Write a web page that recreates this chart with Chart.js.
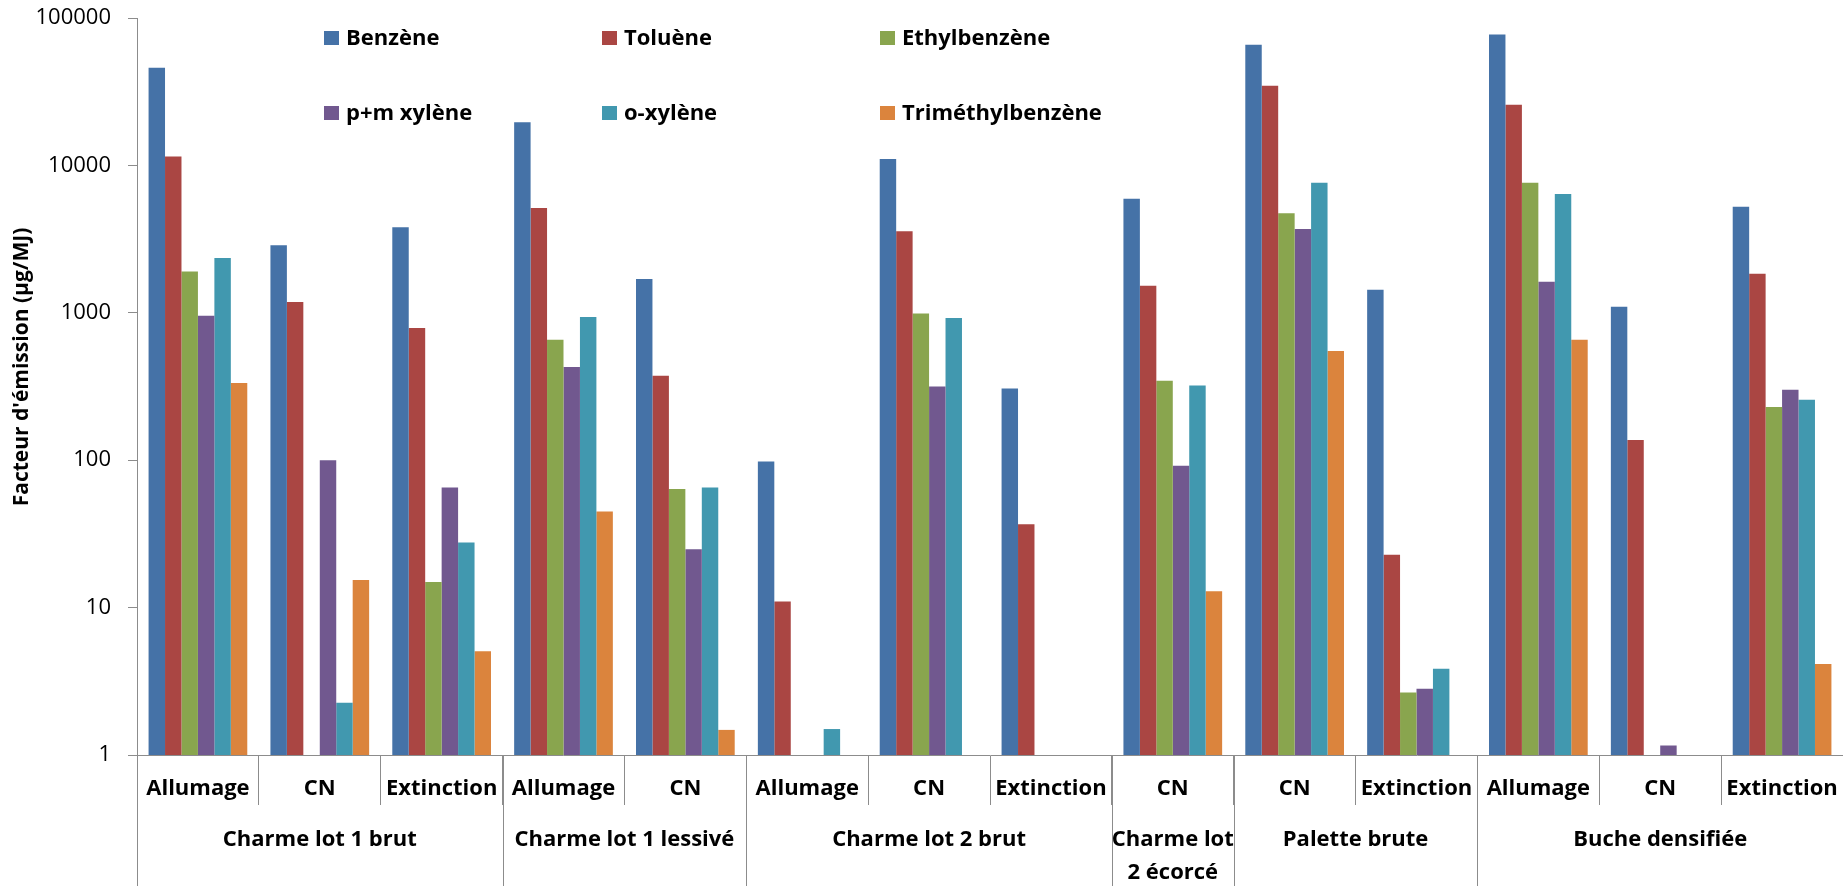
<!DOCTYPE html>
<html>
<head>
<meta charset="utf-8">
<title>Facteur d'émission</title>
<script src="https://cdn.jsdelivr.net/npm/chart.js@4.4.1/dist/chart.umd.min.js"></script>
<style>
  html, body { margin: 0; padding: 0; background: #fff; }
  #wrap { width: 1843px; height: 886px; }
</style>
</head>
<body>
<div id="wrap"><canvas id="chart" width="1843" height="886"></canvas></div>
<script>
// phases (sous-catégories) et groupes de combustibles
const phases = [
  "Allumage", "CN", "Extinction",
  "Allumage", "CN",
  "Allumage", "CN", "Extinction",
  "CN",
  "CN", "Extinction",
  "Allumage", "CN", "Extinction",
];
const groupLabels = [
  ["Charme lot 1 brut"],
  ["Charme lot 1 lessivé"],
  ["Charme lot 2 brut"],
  ["Charme lot", "2 écorcé"],
  ["Palette brute"],
  ["Buche densifiée"],
];
const groupSizes = [3, 2, 3, 1, 2, 3];

// valeurs (µg/MJ), null = pas de barre
const benzene = [45900, 2870, 3800, 19600, 1695, 98, 11070, 307, 5950, 65800, 1435, 77300, 1100, 5250];
const toluene = [11500, 1184, 788, 5140, 374, 11.0, 3570, 36.8, 1528, 34700, 22.8, 25750, 137, 1842];
const ethylbenzene = [1910, null, 14.9, 656, 63.7, null, 991, null, 346, 4730, 2.65, 7640, null, 230];
const pmXylene = [955, 100, 65.3, 429, 24.9, null, 316, null, 91.6, 3705, 2.81, 1626, 1.16, 300];
const oXylene = [2355, 2.26, 27.6, 936, 65.3, 1.5, 922, null, 321, 7640, 3.85, 6400, null, 257];
const trimethylbenzene = [334, 15.4, 5.06, 44.8, 1.48, null, null, null, 12.9, 551, null, 657, null, 4.15];

const seriesNames = ["Benzène", "Toluène", "Ethylbenzène", "p+m xylène", "o-xylène", "Triméthylbenzène"];
const seriesData = [benzene, toluene, ethylbenzene, pmXylene, oXylene, trimethylbenzene];
const seriesColors = ["#4572A7", "#AA4643", "#89A54E", "#71588F", "#4198AF", "#DB843D"];

const yTicks = [1, 10, 100, 1000, 10000, 100000];
const yTitle = "Facteur d'émission (µg/MJ)";

Chart.defaults.font.family = "'Open Sans', sans-serif";
Chart.defaults.color = "#000";

const axisGray = "#8c8c8c";

// légende, titre de l'axe Y et 2e niveau de l'axe X
const extras = {
  id: "extras",
  afterDraw(chart) {
    const ctx = chart.ctx;
    const x = chart.scales.x;
    const area = chart.chartArea;
    ctx.save();

    // légende sur 2 lignes de 3
    ctx.font = "bold 22px 'Open Sans'";
    ctx.textBaseline = "middle";
    ctx.textAlign = "left";
    seriesNames.forEach((name, i) => {
      const lx = 324 + (i % 3) * 278;
      const ly = 38 + Math.floor(i / 3) * 75;
      ctx.fillStyle = seriesColors[i];
      ctx.fillRect(lx, ly - 7, 15, 14);
      ctx.fillStyle = "#000";
      ctx.fillText(name, lx + 22, ly + 1);
    });

    // titre Y
    ctx.save();
    ctx.translate(22, 367);
    ctx.rotate(-Math.PI / 2);
    ctx.textAlign = "center";
    ctx.font = "bold 21px 'Open Sans'";
    ctx.fillText(yTitle, 0, 0);
    ctx.restore();

    // séparateurs de groupes et libellés
    const catW = x.width / phases.length;
    ctx.strokeStyle = axisGray;
    ctx.lineWidth = 1;
    ctx.font = "bold 22px 'Open Sans'";
    ctx.textAlign = "center";
    let start = 0;
    groupSizes.forEach((n, g) => {
      const x0 = x.left + start * catW;
      const x1 = x.left + (start + n) * catW;
      ctx.beginPath();
      ctx.moveTo(Math.round(x0) + 0.5, area.bottom);
      ctx.lineTo(Math.round(x0) + 0.5, chart.height);
      ctx.stroke();
      groupLabels[g].forEach((line, k) => {
        ctx.fillText(line, (x0 + x1) / 2, area.bottom + 85 + k * 33);
      });
      start += n;
    });
    ctx.restore();
  },
};

new Chart(document.getElementById("chart"), {
  type: "bar",
  data: {
    labels: phases,
    datasets: seriesNames.map((name, i) => ({
      label: name,
      data: seriesData[i],
      backgroundColor: seriesColors[i],
      borderWidth: 0,
      categoryPercentage: 0.81,
      barPercentage: 1.0,
    })),
  },
  options: {
    responsive: false,
    animation: false,
    devicePixelRatio: 1,
    layout: { padding: { top: 18, right: 0, left: 0, bottom: 0 } },
    plugins: {
      legend: { display: false },
      tooltip: { enabled: false },
    },
    scales: {
      x: {
        grid: {
          display: true,
          drawOnChartArea: false,
          drawTicks: true,
          tickLength: 50,
          offset: true,
          color: axisGray,
        },
        border: { display: true, color: axisGray, width: 1 },
        ticks: {
          autoSkip: false,
          maxRotation: 0,
          padding: -29,
          color: "#000",
          font: { size: 22, weight: "bold" },
        },
        afterFit: (scale) => {
          scale.height = 131;
          scale.paddingLeft = 0;
          scale.paddingRight = 0;
        },
      },
      y: {
        type: "logarithmic",
        min: 1,
        max: 100000,
        grid: {
          display: true,
          drawOnChartArea: false,
          drawTicks: true,
          tickLength: 9,
          color: axisGray,
        },
        border: { display: true, color: axisGray, width: 1 },
        ticks: {
          padding: 17,
          color: "#000",
          font: { size: 22 },
          callback: (v) => String(v),
        },
        afterBuildTicks: (scale) => {
          scale.ticks = yTicks.map((v) => ({ value: v }));
        },
        afterFit: (scale) => {
          scale.width = 137;
          scale.paddingTop = 0;
          scale.paddingBottom = 0;
        },
      },
    },
  },
  plugins: [extras],
});
</script>
</body>
</html>
